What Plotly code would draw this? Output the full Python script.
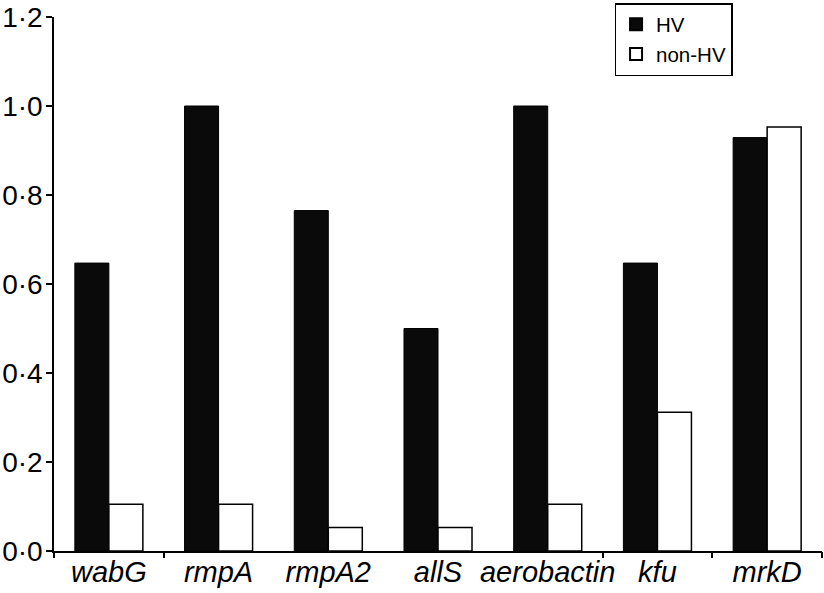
import plotly.graph_objects as go

genes = ["wabG", "rmpA", "rmpA2", "allS", "aerobactin", "kfu", "mrkD"]
hv = [0.647, 1.0, 0.765, 0.5, 1.0, 0.647, 0.929]
non_hv = [0.105, 0.105, 0.053, 0.053, 0.105, 0.312, 0.953]
y_ticks = [0.0, 0.2, 0.4, 0.6, 0.8, 1.0, 1.2]
y_tick_text = ["0·0", "0·2", "0·4", "0·6", "0·8", "1·0", "1·2"]
boundary_ticks = [-0.5, 0.5, 4.5, 5.5, 6.5]

FONT = "Liberation Sans, Arial, Helvetica, sans-serif"

fig = go.Figure()
fig.add_trace(go.Bar(
    x=genes, y=hv, name="HV",
    marker=dict(color="#0a0a0a", line=dict(color="#000000", width=1)),
))
fig.add_trace(go.Bar(
    x=genes, y=non_hv, name="non-HV",
    marker=dict(color="#ffffff", line=dict(color="#000000", width=1.5)),
))
# invisible trace carrying the boundary-tick axis
fig.add_trace(go.Scatter(x=[0.5], y=[0], xaxis="x2", mode="markers",
                         marker=dict(opacity=0), showlegend=False, hoverinfo="skip"))

fig.update_layout(
    width=824, height=593,
    margin=dict(l=52, r=2, t=17, b=42),
    paper_bgcolor="white", plot_bgcolor="white",
    barmode="group", bargap=0.38, bargroupgap=0,
    font=dict(family=FONT, color="#000000"),
    showlegend=True,
    legend=dict(
        x=0.7299, y=1.0262, xanchor="left", yanchor="top",
        bordercolor="#000000", borderwidth=1.5, bgcolor="white",
        font=dict(size=20.5, family=FONT),
        tracegroupgap=0, itemsizing="constant", itemwidth=30,
    ),
    xaxis=dict(
        type="category", range=[-0.5, 6.5],
        showline=True, linecolor="#000000", linewidth=1.5,
        ticks="", showgrid=False, zeroline=False,
        tickfont=dict(size=29, family=FONT, style="italic"),
        ticklabelstandoff=-6,
    ),
    xaxis2=dict(
        overlaying="x", anchor="y", range=[-0.5, 6.5],
        tickmode="array", tickvals=boundary_ticks,
        ticks="outside", ticklen=6, tickwidth=1.5, tickcolor="#000000",
        showticklabels=False, showgrid=False, zeroline=False, showline=False,
        side="bottom",
    ),
    yaxis=dict(
        range=[0, 1.2],
        tickmode="array", tickvals=y_ticks, ticktext=y_tick_text,
        ticks="outside", ticklen=6, tickwidth=1.5, tickcolor="#000000",
        showline=True, linecolor="#000000", linewidth=1.5,
        showgrid=False, zeroline=False,
        tickfont=dict(size=28, family=FONT),
        ticklabelstandoff=-2,
    ),
)

fig.write_html("out.html", config={"displayModeBar": False},
               post_script="document.body.style.margin='0px';")
